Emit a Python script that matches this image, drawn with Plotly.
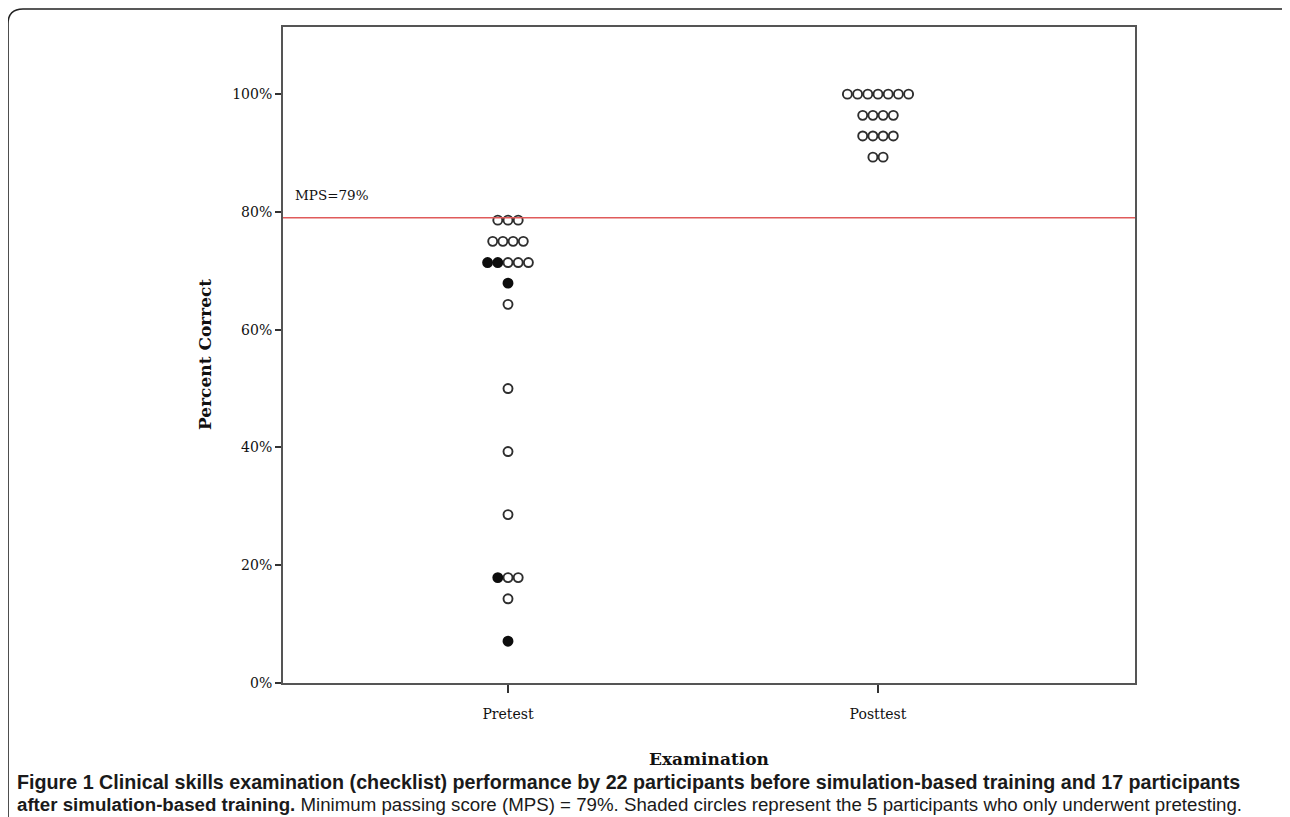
import plotly.graph_objects as go

# ---- data ----
categories = ["Pretest", "Posttest"]
pre_scores = [78.6, 75.0, 71.4, 67.9, 64.3, 50.0, 39.3, 28.6, 17.9, 14.3, 7.1]
pre_open = [3, 4, 3, 0, 1, 1, 1, 1, 2, 1, 0]
pre_filled = [0, 0, 2, 1, 0, 0, 0, 0, 1, 0, 1]
post_scores = [100.0, 96.4, 92.9, 89.3]
post_open = [7, 4, 4, 2]
post_filled = [0, 0, 0, 0]
y_ticks = [0, 20, 40, 60, 80, 100]
y_ticktext = ["0%", "20%", "40%", "60%", "80%", "100%"]
mps = 79

# ---- layout geometry (screen pixels; page body has an 8px margin) ----
OFF = 8
W, H = 1290, 817
sL, sT, sR, sB = 283, 27, 1135, 683      # plot area on screen
L, T, R, B = sL - OFF, sT - OFF, sR - OFF, sB - OFF
x_pre, x_post = 508, 878                 # screen x of the two categories
unit = x_post - x_pre
x_range = [1 - (x_pre - sL) / unit, 2 + (sR - x_post) / unit]
y_range = [0, 111.4]
step = 10.2 / unit                       # horizontal dot spacing


def px(x):
    return (x - OFF - L) / (R - L)


def py(y):
    return (B - (y - OFF)) / (B - T)


def stack(center, scores, n_open, n_filled):
    ox, oy, fx, fy = [], [], [], []
    for s, o, f in zip(scores, n_open, n_filled):
        n = o + f
        for k in range(n):
            xpos = center + (k - (n - 1) / 2) * step
            if k < f:
                fx.append(xpos); fy.append(s)
            else:
                ox.append(xpos); oy.append(s)
    return ox, oy, fx, fy


fig = go.Figure()
for ci, (sc, op, fi) in enumerate([(pre_scores, pre_open, pre_filled),
                                   (post_scores, post_open, post_filled)]):
    ox, oy, fx, fy = stack(ci + 1, sc, op, fi)
    fig.add_trace(go.Scatter(x=ox, y=oy, mode="markers", showlegend=False,
                             marker=dict(size=9, color="white",
                                         line=dict(color="#2e2e2e", width=1.9))))
    if fx:
        fig.add_trace(go.Scatter(x=fx, y=fy, mode="markers", showlegend=False,
                                 marker=dict(size=9, color="#0d0d0d",
                                             line=dict(color="#0d0d0d", width=1.9))))

# MPS line
fig.add_shape(type="line", xref="paper", yref="y", x0=0, x1=1, y0=mps, y1=mps,
              line=dict(color="#e05a5a", width=1.6))
fig.add_annotation(xref="paper", yref="y", x=px(293), y=mps, yshift=13,
                   text="MPS=79%", showarrow=False, xanchor="left", yanchor="bottom",
                   font=dict(family="DejaVu Serif", size=13.5, color="#111111"))

# outer frame
frame = (f"M {px(8)},{py(825)} L {px(8)},{py(24)} Q {px(8)},{py(9)} {px(23)},{py(9)} "
         f"L {px(1281)},{py(9)} Q {px(1288)},{py(9)} {px(1288)},{py(16)} L {px(1288)},{py(24)}")
fig.add_shape(type="path", xref="paper", yref="paper", path=frame,
              line=dict(color="#222222", width=1.6))

# axis titles
fig.add_annotation(xref="paper", yref="paper", x=px(205), y=py(355), textangle=-90,
                   xanchor="center", yanchor="middle",
                   text="<b>Percent Correct</b>", showarrow=False,
                   font=dict(family="DejaVu Serif", size=17, color="#111111"))
fig.add_annotation(xref="paper", yref="paper", x=0.5, y=py(759),
                   xanchor="center", yanchor="middle",
                   text="<b>Examination</b>", showarrow=False,
                   font=dict(family="DejaVu Serif", size=17, color="#111111"))

# caption
cap1 = ("<b>Figure 1 Clinical skills examination (checklist) performance by 22 participants "
        "before simulation-based training and 17 participants</b>")
cap2 = ("<b>after simulation-based training.</b> Minimum passing score (MPS) = 79%. "
        "Shaded circles represent the 5 participants who only underwent pretesting.")
for txt, yy, fs in [(cap1, 781.5, 19.7), (cap2, 804.5, 18.7)]:
    fig.add_annotation(xref="paper", yref="paper", x=px(15), y=py(yy), xanchor="left",
                       yanchor="middle", text=txt, showarrow=False,
                       font=dict(family="Liberation Sans", size=fs, color="#1a1a1a"))

axis_common = dict(showgrid=False, zeroline=False, showline=True, linecolor="#555555",
                   linewidth=2, mirror=True, ticks="outside", tickcolor="#333333",
                   tickfont=dict(family="DejaVu Serif", size=14, color="#111111"))
fig.update_xaxes(range=x_range, tickvals=[1, 2], ticktext=categories, ticklen=8,
                 tickwidth=1.5, ticklabelstandoff=9, **axis_common)
fig.update_yaxes(range=y_range, tickvals=y_ticks, ticktext=y_ticktext, ticklen=6,
                 tickwidth=1.5, **axis_common)

fig.update_layout(width=W, height=H, margin=dict(l=L, r=W - R, t=T, b=H - B),
                  paper_bgcolor="white", plot_bgcolor="white")
fig.write_html("out.html")
